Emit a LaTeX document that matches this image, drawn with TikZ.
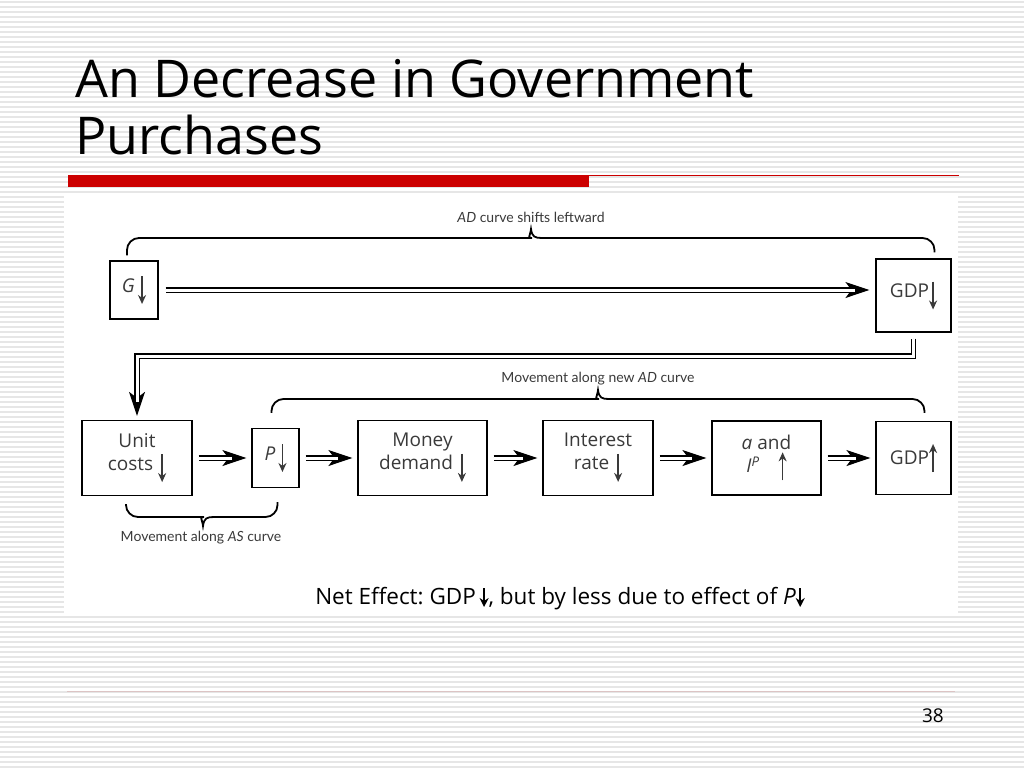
\documentclass[tikz,border=0pt]{standalone}
\usepackage{fontspec}
\setmainfont{Open Sans}
\newfontfamily\diafont{Open Sans}
\newfontfamily\lblfont{Lato}
\usetikzlibrary{positioning,arrows.meta,calc}

\definecolor{slidered}{HTML}{CC0000}
\definecolor{stripegray}{HTML}{E6E6E6}
\definecolor{footline}{HTML}{DCC4C4}
\definecolor{boxtext}{HTML}{3A3A3A}

% small arrows inside the boxes
\newcommand{\dnarr}{\tikz[baseline=0pt]\draw[line width=1.5pt,-{Stealth[length=9pt,width=8pt]}] (0,16pt) -- (0,-12pt);}
\newcommand{\uparr}{\tikz[baseline=0pt]\draw[line width=1.5pt,-{Stealth[length=9pt,width=8pt]}] (0,-8pt) -- (0,20pt);}
\newcommand{\netdn}{\tikz[baseline=0pt]\draw[line width=1.8pt,-{Stealth[length=9pt,width=9pt]}] (0,16pt) -- (0,-3pt);}

\begin{document}
\frenchspacing
\begin{tikzpicture}[x=1pt, y=-1pt,
  box/.style={draw, line width=1.2pt, align=center, inner sep=2pt, text=boxtext,
    font=\diafont\fontsize{19}{23}\selectfont},
  dbltip/.style={line width=1.2pt, -{Stealth[length=24pt,width=16pt,inset=6pt]}},
  dblline/.style={double, line width=1.1pt, double distance=3pt, shorten >=14pt},
  brace/.style={line width=1.8pt, rounded corners=12pt},
  lbl/.style={font=\lblfont\fontsize{14}{16}\selectfont, text=boxtext},
  stripe/.style={stripegray, line width=1.4pt}]

  \useasboundingbox (0,0) rectangle (1024,768);
  \fill[white] (0,0) rectangle (1024,768);
  \foreach \yy in {2,7,...,767}
    \draw[stripe] (0,\yy) -- (1024,\yy);

  % title and rules
  \node[anchor=base west, inner sep=0pt, font=\fontsize{52}{56}\selectfont] (title1) at (75,97) {An Decrease in Government};
  \node[anchor=base west, inner sep=0pt, font=\fontsize{52}{56}\selectfont] (title2) at (75,154) {Purchases};
  \fill[slidered] (68,175) rectangle (589,187);
  \draw[slidered, line width=0.8pt] (589,175) -- (959,175);
  \draw[footline, line width=0.8pt] (67,691) -- (955,691);
  \node[anchor=base east, inner sep=0pt, font=\fontsize{19}{22}\selectfont] (pagenum) at (944,722) {38};

  % diagram panel
  \fill[white] (64,196) rectangle (958,613);

  % boxes
  \node[box, minimum width=48pt, minimum height=58pt] (g) at (134,290) {\textit{G}\,\dnarr};
  \node[box, minimum width=75pt, minimum height=73pt] (gdpa) at (913.5,295.5) {GDP\dnarr};
  \node[box, minimum width=110pt, minimum height=75pt] (unit) at (137,458) {Unit\\costs \dnarr};
  \node[box, minimum width=47pt, minimum height=59pt] (p) at (275.5,458) {\textit{P}\,\dnarr};
  \node[box, minimum width=129pt, minimum height=75pt] (money) at (422.5,458) {Money\\demand \dnarr};
  \node[box, minimum width=110pt, minimum height=75pt] (interest) at (598,458) {Interest\\rate \dnarr};
  \node[box, minimum width=109pt, minimum height=74pt] (invest) at (766.5,458) {\textit{a} and\\\textit{I}\textsuperscript{\textit{P}}\quad\uparr};
  \node[box, minimum width=75pt, minimum height=73pt] (gdpb) at (913.5,458) {GDP\uparr};

  % double arrows: tip first, then the double line over it
  \draw[dbltip] ([xshift=7pt]g.east) -- ([xshift=-6pt]gdpa.west |- g.east);
  \draw[dblline] ([xshift=7pt]g.east) -- ([xshift=-6pt]gdpa.west |- g.east);
  \draw[dbltip] ([yshift=-6pt]gdpa.south) |- (500,356) -| ([yshift=4pt]unit.north);
  \draw[dblline] ([yshift=-6pt]gdpa.south) |- (500,356) -| ([yshift=4pt]unit.north);
  \foreach \a/\b in {unit/p, p/money, money/interest, interest/invest, invest/gdpb} {
    \draw[dbltip] ([xshift=6pt]\a.east) -- ([xshift=-5pt]\b.west);
    \draw[dblline] ([xshift=6pt]\a.east) -- ([xshift=-5pt]\b.west);
  }

  % braces
  \draw[brace] ($(g.north)+(-7,-5)$) |- (520,238) [sharp corners]
    .. controls (527,238) and (530,237) .. (531,229)
    .. controls (532,237) and (535,238) .. (542,238) [rounded corners=12pt] -| ($(gdpa.north)+(21,-6)$);
  \draw[brace] ($(p.north)+(-4,-15)$) |- (587,399) [sharp corners]
    .. controls (594,399) and (597,398) .. (598,390)
    .. controls (599,398) and (602,399) .. (609,399) [rounded corners=12pt] -| ($(gdpb.north)+(11,-8)$);
  \draw[brace] ($(unit.south)+(-11,8)$) |- (192,517) [sharp corners]
    .. controls (199,517) and (202,518) .. (203,526)
    .. controls (204,518) and (207,517) .. (214,517) [rounded corners=12pt] -| ($(p.south)+(2,14)$);

  % brace labels
  \node[lbl] (lshift) at (531,217) {\textit{AD} curve shifts leftward};
  \node[lbl] (lnewad) at (598,379) {Movement along new \textit{AD} curve};
  \node[lbl] (lalong) at (201,538) {Movement along \textit{AS} curve};

  % bottom line
  \node[anchor=base, inner sep=0pt, font=\fontsize{22.5}{26}\selectfont] (net) at (560,604)
    {Net Effect: GDP\,\netdn, but by less due to effect of \textit{P}\netdn};
\end{tikzpicture}
\end{document}
